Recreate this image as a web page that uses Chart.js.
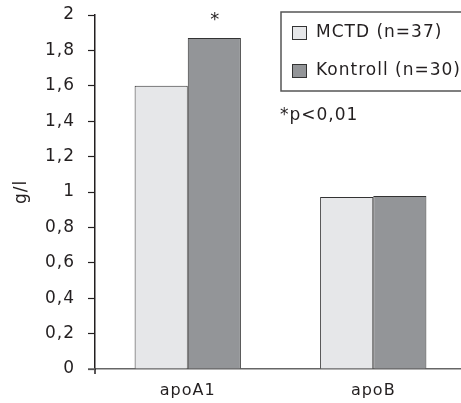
<!DOCTYPE html>
<html>
<head>
<meta charset="utf-8">
<script src="https://cdn.jsdelivr.net/npm/chart.js@4/dist/chart.umd.min.js"></script>
<style>
html,body{margin:0;padding:0;background:#fff;overflow:hidden;}
#wrap{width:466px;height:403px;position:relative;}
</style>
</head>
<body>
<div id="wrap"><canvas id="c" width="466" height="403"></canvas></div>
<script>
const categories = ["apoA1", "apoB"];
const seriesNames = ["MCTD (n=37)", "Kontroll (n=30)"];
const mctd = [1.60, 0.972];
const kontroll = [1.87, 0.977];
const yTicks = ["0","0,2","0,4","0,6","0,8","1","1,2","1,4","1,6","1,8","2"];
const yTitle = "g/l";
const sigNote = "*p<0,01";
const sigMark = "*";

const FONT = "'DejaVu Sans', sans-serif";
const colors = ["#e6e7e9", "#939598"];
const ink = "#231f20";

const spacing = {
  id: "spacing",
  beforeUpdate(chart) { chart.ctx.letterSpacing = "1px"; },
  beforeLayout(chart) { chart.ctx.letterSpacing = "1px"; },
  beforeDraw(chart) { chart.ctx.letterSpacing = "1px"; }
};

const annot = {
  id: "annot",
  afterDraw(chart) {
    const ctx = chart.ctx;
    const ca = chart.chartArea;
    ctx.save();
    ctx.letterSpacing = "1px";
    // axis extensions
    ctx.strokeStyle = ink;
    ctx.lineWidth = 1.5;
    ctx.beginPath();
    ctx.moveTo(ca.left, ca.bottom);
    ctx.lineTo(ca.left, ca.bottom + 5);
    ctx.stroke();
    ctx.strokeStyle = "#666";
    ctx.beginPath();
    ctx.moveTo(ca.left - 7, ca.bottom);
    ctx.lineTo(ca.left, ca.bottom);
    ctx.stroke();

    // y title
    ctx.fillStyle = ink;
    ctx.font = "17px " + FONT;
    ctx.textAlign = "center";
    ctx.textBaseline = "middle";
    ctx.translate(22, 192);
    ctx.rotate(-Math.PI / 2);
    ctx.fillText(yTitle, 0, 0);
    ctx.restore();

    // legend box
    ctx.save();
    ctx.letterSpacing = "1px";
    ctx.strokeStyle = "#555";
    ctx.lineWidth = 1.5;
    ctx.strokeRect(281, 12, 190, 79);
    ctx.font = "17px " + FONT;
    ctx.textAlign = "left";
    ctx.textBaseline = "middle";
    const rows = [33, 71];
    seriesNames.forEach((n, i) => {
      ctx.fillStyle = colors[i];
      ctx.fillRect(292, rows[i] - 7, 15, 14);
      ctx.strokeStyle = "#333";
      ctx.lineWidth = 1;
      ctx.strokeRect(292.5, rows[i] - 6.5, 14, 13);
      ctx.fillStyle = ink;
      ctx.fillText(n, 316, rows[i]);
    });
    // note
    ctx.fillText(sigNote, 280, 116);
    // significance asterisk above Kontroll apoA1
    const bar = chart.getDatasetMeta(1).data[0];
    ctx.textAlign = "center";
    ctx.font = "18px " + FONT;
    ctx.fillText(sigMark, bar.x + 1, bar.y - 18);
    ctx.restore();
  }
};

new Chart(document.getElementById("c"), {
  type: "bar",
  data: {
    labels: categories,
    datasets: [
      { label: seriesNames[0], data: mctd, backgroundColor: colors[0], borderColor: "#333", borderWidth: 1, categoryPercentage: 0.573, barPercentage: 1 },
      { label: seriesNames[1], data: kontroll, backgroundColor: colors[1], borderColor: "#333", borderWidth: 1, categoryPercentage: 0.573, barPercentage: 1 }
    ]
  },
  options: {
    responsive: false,
    animation: false,
    layout: { padding: { left: 0, right: 0, top: 15, bottom: 0 } },
    plugins: { legend: { display: false }, tooltip: { enabled: false } },
    scales: {
      x: {
        grid: { display: false, drawTicks: false },
        border: { color: "#666", width: 1.5 },
        ticks: { color: ink, font: { family: FONT, size: 16 }, padding: 12 },
        afterFit(s) { s.height = 34; s.paddingLeft = 0; s.paddingRight = 0; }
      },
      y: {
        min: 0, max: 2,
        grid: { drawOnChartArea: false, tickLength: 7, color: ink, tickWidth: 1.2 },
        border: { color: ink, width: 1.5 },
        ticks: {
          stepSize: 0.2,
          color: ink,
          font: { family: FONT, size: 17 },
          padding: 13,
          callback: (v, i) => yTicks[i]
        },
        afterFit(s) { s.width = 95; s.paddingTop = 0; s.paddingBottom = 0; }
      }
    }
  },
  plugins: [spacing, annot]
});
</script>
</body>
</html>
